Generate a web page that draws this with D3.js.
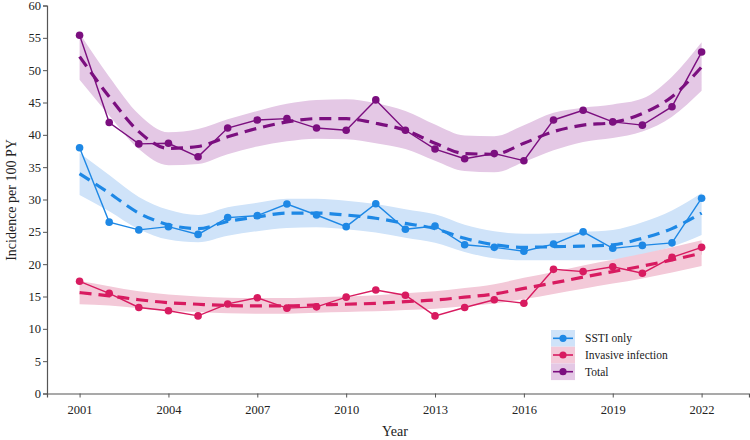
<!DOCTYPE html>
<html>
<head>
<meta charset="utf-8">
<script src="https://cdn.jsdelivr.net/npm/d3@7"></script>
<style>
  body { margin: 0; background: #fff; }
  svg text { font-family: "Liberation Serif", "Times New Roman", serif; fill: #222; }
</style>
</head>
<body>
<div id="chart"></div>
<script>
// Years
var years = [2001, 2002, 2003, 2004, 2005, 2006, 2007, 2008, 2009, 2010, 2011,
             2012, 2013, 2014, 2015, 2016, 2017, 2018, 2019, 2020, 2021, 2022];
var xTicks = [2001, 2004, 2007, 2010, 2013, 2016, 2019, 2022];
var yTicks = [0, 5, 10, 15, 20, 25, 30, 35, 40, 45, 50, 55, 60];

// Observed incidence
var ssti = [38.0, 26.5, 25.3, 25.8, 24.6, 27.2, 27.5, 29.3, 27.6, 25.8, 29.35,
            25.4, 25.9, 23.0, 22.6, 22.0, 23.1, 25.0, 22.45, 22.9, 23.3, 30.2];
var invasive = [17.35, 15.5, 13.3, 12.8, 12.0, 13.85, 14.8, 13.2, 13.4, 14.9, 16.0,
                15.2, 12.0, 13.3, 14.5, 13.95, 19.2, 18.85, 19.6, 18.6, 21.05, 22.6];
var total = [55.4, 41.9, 38.6, 38.7, 36.6, 41.05, 42.3, 42.5, 41.05, 40.7, 45.4,
             40.7, 37.8, 36.3, 37.1, 36.0, 42.3, 43.8, 42.0, 41.5, 44.35, 52.8];

// Fitted trend
var sstiFit = [34.0, 31.0, 27.9, 26.1, 25.5, 26.6, 27.3, 27.9, 27.9, 27.6, 27.1,
               26.3, 25.5, 24.0, 23.0, 22.6, 22.7, 22.8, 23.0, 24.0, 25.5, 27.9];
var invasiveFit = [15.6, 15.1, 14.5, 14.05, 13.8, 13.6, 13.55, 13.55, 13.7, 13.8, 13.95,
                   14.2, 14.45, 14.9, 15.4, 16.25, 17.1, 18.0, 18.85, 19.7, 20.65, 21.7];
var totalFit = [52.1, 45.9, 40.5, 37.9, 38.2, 39.7, 41.0, 42.0, 42.5, 42.5, 41.8,
                40.7, 38.7, 37.1, 37.0, 38.7, 40.5, 41.5, 41.9, 43.3, 45.9, 50.5];

// Confidence bands
var sstiLo = [30.7, 28.2, 25.4, 23.8, 23.4, 24.4, 25.1, 25.6, 25.7, 25.4, 24.9,
              24.1, 23.3, 21.9, 20.9, 20.6, 20.6, 20.6, 20.7, 21.5, 22.7, 24.5];
var sstiHi = [37.2, 33.8, 30.4, 28.4, 27.6, 28.8, 29.5, 30.1, 30.1, 29.8, 29.3,
              28.5, 27.7, 26.1, 25.1, 24.7, 24.8, 25.0, 25.3, 26.5, 28.3, 31.0];
var invasiveLo = [13.8, 13.6, 13.2, 12.8, 12.6, 12.4, 12.35, 12.35, 12.5, 12.6, 12.7,
                  12.9, 13.1, 13.5, 13.9, 14.6, 15.4, 16.2, 17.0, 17.8, 18.7, 19.7];
var invasiveHi = [17.4, 16.6, 15.8, 15.3, 15.0, 14.8, 14.75, 14.75, 14.9, 15.0, 15.2,
                  15.5, 15.8, 16.3, 16.9, 17.9, 18.8, 19.8, 20.7, 21.6, 22.6, 23.7];
var totalLo = [48.5, 43.0, 37.8, 35.3, 35.5, 37.0, 38.2, 39.0, 39.4, 39.3, 38.7,
               37.8, 36.0, 34.4, 34.2, 35.8, 37.6, 38.9, 39.5, 40.5, 42.8, 46.8];
var totalHi = [55.7, 49.0, 43.2, 40.4, 40.9, 42.4, 43.7, 44.8, 45.4, 45.5, 44.9,
               43.7, 41.6, 39.9, 39.8, 41.5, 43.4, 44.2, 44.7, 45.6, 49.0, 54.3];

var seriesNames = ["SSTI only", "Invasive infection", "Total"];
var lineColors = ["#1E88E5", "#D81B60", "#7B0F7F"];
var bandColors = ["#cfe3f9", "#f3c9d8", "#e4c8e5"];

var series = [
  { name: seriesNames[0], obs: ssti, fit: sstiFit, lo: sstiLo, hi: sstiHi, color: lineColors[0], band: bandColors[0] },
  { name: seriesNames[1], obs: invasive, fit: invasiveFit, lo: invasiveLo, hi: invasiveHi, color: lineColors[1], band: bandColors[1] },
  { name: seriesNames[2], obs: total, fit: totalFit, lo: totalLo, hi: totalHi, color: lineColors[2], band: bandColors[2] }
];

var serif = "'Liberation Serif', 'Times New Roman', serif";
var width = 750, height = 440;

var svg = d3.select("#chart")
    .append("svg")
    .attr("width", width)
    .attr("height", height)
    .attr("font-family", serif);

var xScale = d3.scaleLinear()
    .domain([1999.9, 2023.6])
    .range([47, 749]);

var yScale = d3.scaleLinear()
    .domain([0, 60])
    .range([393.5, 5.5]);

// Bands
var area = d3.area()
    .curve(d3.curveMonotoneX)
    .x(function (d) { return xScale(d.year); })
    .y0(function (d) { return yScale(d.lo); })
    .y1(function (d) { return yScale(d.hi); });

series.forEach(function (s) {
    var rows = years.map(function (y, i) { return { year: y, lo: s.lo[i], hi: s.hi[i] }; });
    svg.append("path")
        .datum(rows)
        .attr("d", area)
        .attr("fill", s.band)
        .attr("stroke", "none");
});

// Axes
var xAxis = svg.append("g")
    .attr("transform", "translate(0," + yScale(0) + ")")
    .call(d3.axisBottom(xScale).tickValues(xTicks).tickFormat(d3.format("d")).tickSizeOuter(0).tickSize(4).tickPadding(8));

var yAxis = svg.append("g")
    .attr("transform", "translate(" + xScale.range()[0] + ",0)")
    .call(d3.axisLeft(yScale).tickValues(yTicks).tickSizeOuter(0).tickSize(4).tickPadding(2));

[xAxis, yAxis].forEach(function (a) {
    a.attr("font-family", serif).attr("font-size", 12.5);
    a.select(".domain").attr("stroke", "#555").attr("stroke-width", 1.2);
    a.selectAll(".tick line").attr("stroke", "#555");
    a.selectAll(".tick text")
        .attr("font-family", serif)
        .style("font-family", serif)
        .style("font-size", "12.5px")
        .attr("fill", "#333");
});

// Axis titles
svg.append("text")
    .attr("x", 395)
    .attr("y", 436)
    .style("text-anchor", "middle")
    .style("font-size", "14px")
    .text("Year");

svg.append("text")
    .attr("transform", "rotate(-90)")
    .attr("x", -200)
    .attr("y", 16)
    .style("text-anchor", "middle")
    .style("font-size", "14px")
    .text("Incidence per 100 PY");

// Lines
var lineSmooth = d3.line()
    .curve(d3.curveMonotoneX)
    .x(function (d) { return xScale(d.year); })
    .y(function (d) { return yScale(d.v); });

var lineStraight = d3.line()
    .x(function (d) { return xScale(d.year); })
    .y(function (d) { return yScale(d.v); });

series.forEach(function (s) {
    var fitRows = years.map(function (y, i) { return { year: y, v: s.fit[i] }; });
    var obsRows = years.map(function (y, i) { return { year: y, v: s.obs[i] }; });

    svg.append("path")
        .datum(fitRows)
        .attr("d", lineSmooth)
        .attr("fill", "none")
        .attr("stroke", s.color)
        .attr("stroke-width", 3.2)
        .attr("stroke-dasharray", "12,7");

    svg.append("path")
        .datum(obsRows)
        .attr("d", lineStraight)
        .attr("fill", "none")
        .attr("stroke", s.color)
        .attr("stroke-width", 1.4);

    svg.append("g")
        .selectAll("circle")
        .data(obsRows)
        .enter()
        .append("circle")
        .attr("cx", function (d) { return xScale(d.year); })
        .attr("cy", function (d) { return yScale(d.v); })
        .attr("r", 3.8)
        .attr("fill", s.color);
});

// Legend
var legend = svg.append("g").attr("transform", "translate(551,330)");
series.forEach(function (s, i) {
    var g = legend.append("g").attr("transform", "translate(0," + (i * 16.7) + ")");
    g.append("rect")
        .attr("x", 0).attr("y", 0)
        .attr("width", 24).attr("height", 16.7)
        .attr("fill", s.band);
    g.append("line")
        .attr("x1", 2).attr("x2", 22)
        .attr("y1", 8.3).attr("y2", 8.3)
        .attr("stroke", s.color)
        .attr("stroke-width", 1.6);
    g.append("circle")
        .attr("cx", 12).attr("cy", 8.3)
        .attr("r", 3.6)
        .attr("fill", s.color);
    g.append("text")
        .attr("x", 34).attr("y", 12.3)
        .attr("font-family", serif)
        .style("font-size", "11.5px")
        .text(s.name);
});
</script>
</body>
</html>
